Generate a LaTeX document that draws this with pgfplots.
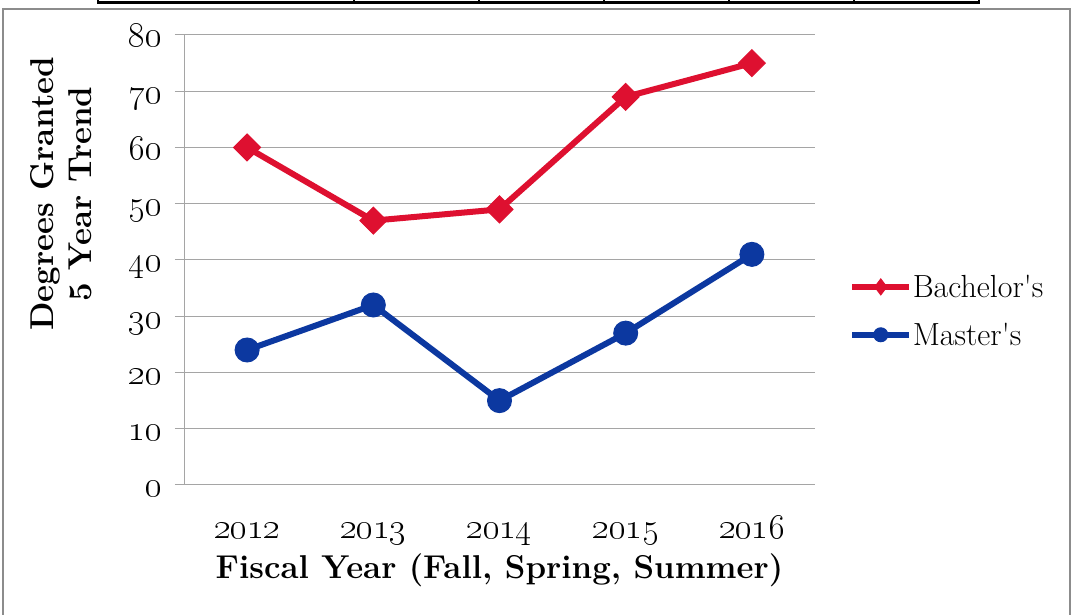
\RequirePackage{fix-cm}
\documentclass[border=0pt]{standalone}
\usepackage{pgfplots}
\pgfplotsset{compat=1.18}
\definecolor{bred}{RGB}{222,16,48}
\definecolor{mblue}{RGB}{12,56,160}
\definecolor{gridgray}{RGB}{165,165,165}
\definecolor{framegray}{RGB}{140,140,140}
\begin{document}
\begin{tikzpicture}[x=1pt,y=1pt]
\useasboundingbox (0,0) rectangle (1073,615);
\fill[white] (0,0) rectangle (1073,615);
\draw[framegray, line width=2.5pt] (3,-5) -- (3,606) -- (1070,606) -- (1070,-5);
\draw[black, line width=3.5pt] (98,612.5) -- (979,612.5);
\foreach \x in {98,354,479,604,729,854,979} \draw[black, line width=1.5pt] (\x,615) -- (\x,611);
\begin{axis}[
  at={(184pt,130pt)}, anchor=origin,
  scale only axis, width=631pt, height=450pt,
  xmin=0, xmax=5, ymin=0, ymax=80,
  axis lines=left,
  axis line style={-, draw=gridgray, line width=1pt},
  ytick={0,10,...,80},
  yticklabels={\mbox{\oldstylenums{0}},\mbox{\oldstylenums{10}},\mbox{\oldstylenums{20}},\mbox{\oldstylenums{30}},\mbox{\oldstylenums{40}},\mbox{\oldstylenums{50}},\mbox{\oldstylenums{60}},\mbox{\oldstylenums{70}},\mbox{\oldstylenums{80}}},
  xtick={0.5,1.5,2.5,3.5,4.5},
  xticklabels={\mbox{\oldstylenums{2012}},\mbox{\oldstylenums{2013}},\mbox{\oldstylenums{2014}},\mbox{\oldstylenums{2015}},\mbox{\oldstylenums{2016}}},
  minor xtick={0,1,2,3,4,5},
  tick align=outside,
  xtick style={draw=none},
  ytick style={draw=gridgray, line width=1pt},
  major tick length=9pt,
  minor tick length=10pt,
  minor tick style={draw=gridgray, line width=1pt},
  ymajorgrids,
  grid style={draw=gridgray, line width=1pt},
  yticklabel style={font=\fontsize{35}{40}\selectfont, anchor=base east, xshift=-10pt, yshift=-12pt},
  xticklabel style={font=\fontsize{35}{40}\selectfont, anchor=base, yshift=-45pt},
  xlabel={\textbf{Fiscal Year (Fall, Spring, Summer)}},
  xlabel style={font=\fontsize{33}{38}\selectfont, at={(axis description cs:0.5,-0.2067)}, anchor=base},
  ylabel={\textbf{Degrees Granted}\\\textbf{5 Year Trend}},
  ylabel style={font=\fontsize{33}{38}\selectfont, align=center, at={(axis description cs:-0.195,0.647)}, anchor=center},
  legend image code/.code={\draw[mark repeat=2,mark phase=2,#1] plot coordinates {(0pt,0pt) (28.5pt,0pt) (57pt,0pt)};},
  legend style={at={(1.054,0.387)}, anchor=west, draw=none, fill=none, inner sep=0pt,
    font=\fontsize{32}{38}\selectfont, row sep=24pt,
    nodes={inner xsep=0.5pt, inner ysep=0pt}},
  legend cell align=left,
  clip=false,
]
\addplot[bred, line width=6pt, mark=square*, mark size=9.5pt, mark options={rotate=45, line width=1pt}, forget plot]
  coordinates {(0.5,60) (1.5,47) (2.5,49) (3.5,69) (4.5,75)};
\addplot[mblue, line width=6pt, mark=*, mark size=12pt, mark options={line width=1pt}, forget plot]
  coordinates {(0.5,24) (1.5,32) (2.5,15) (3.5,27) (4.5,41)};
\addlegendimage{bred, line width=6pt, mark=diamond*, mark size=8pt, mark options={line width=1pt}}
\addlegendentry{Bachelor\textquotesingle s}
\addlegendimage{mblue, line width=6pt, mark=*, mark size=7pt, mark options={line width=1pt}}
\addlegendentry{Master\textquotesingle s}
\end{axis}
\end{tikzpicture}
\end{document}
